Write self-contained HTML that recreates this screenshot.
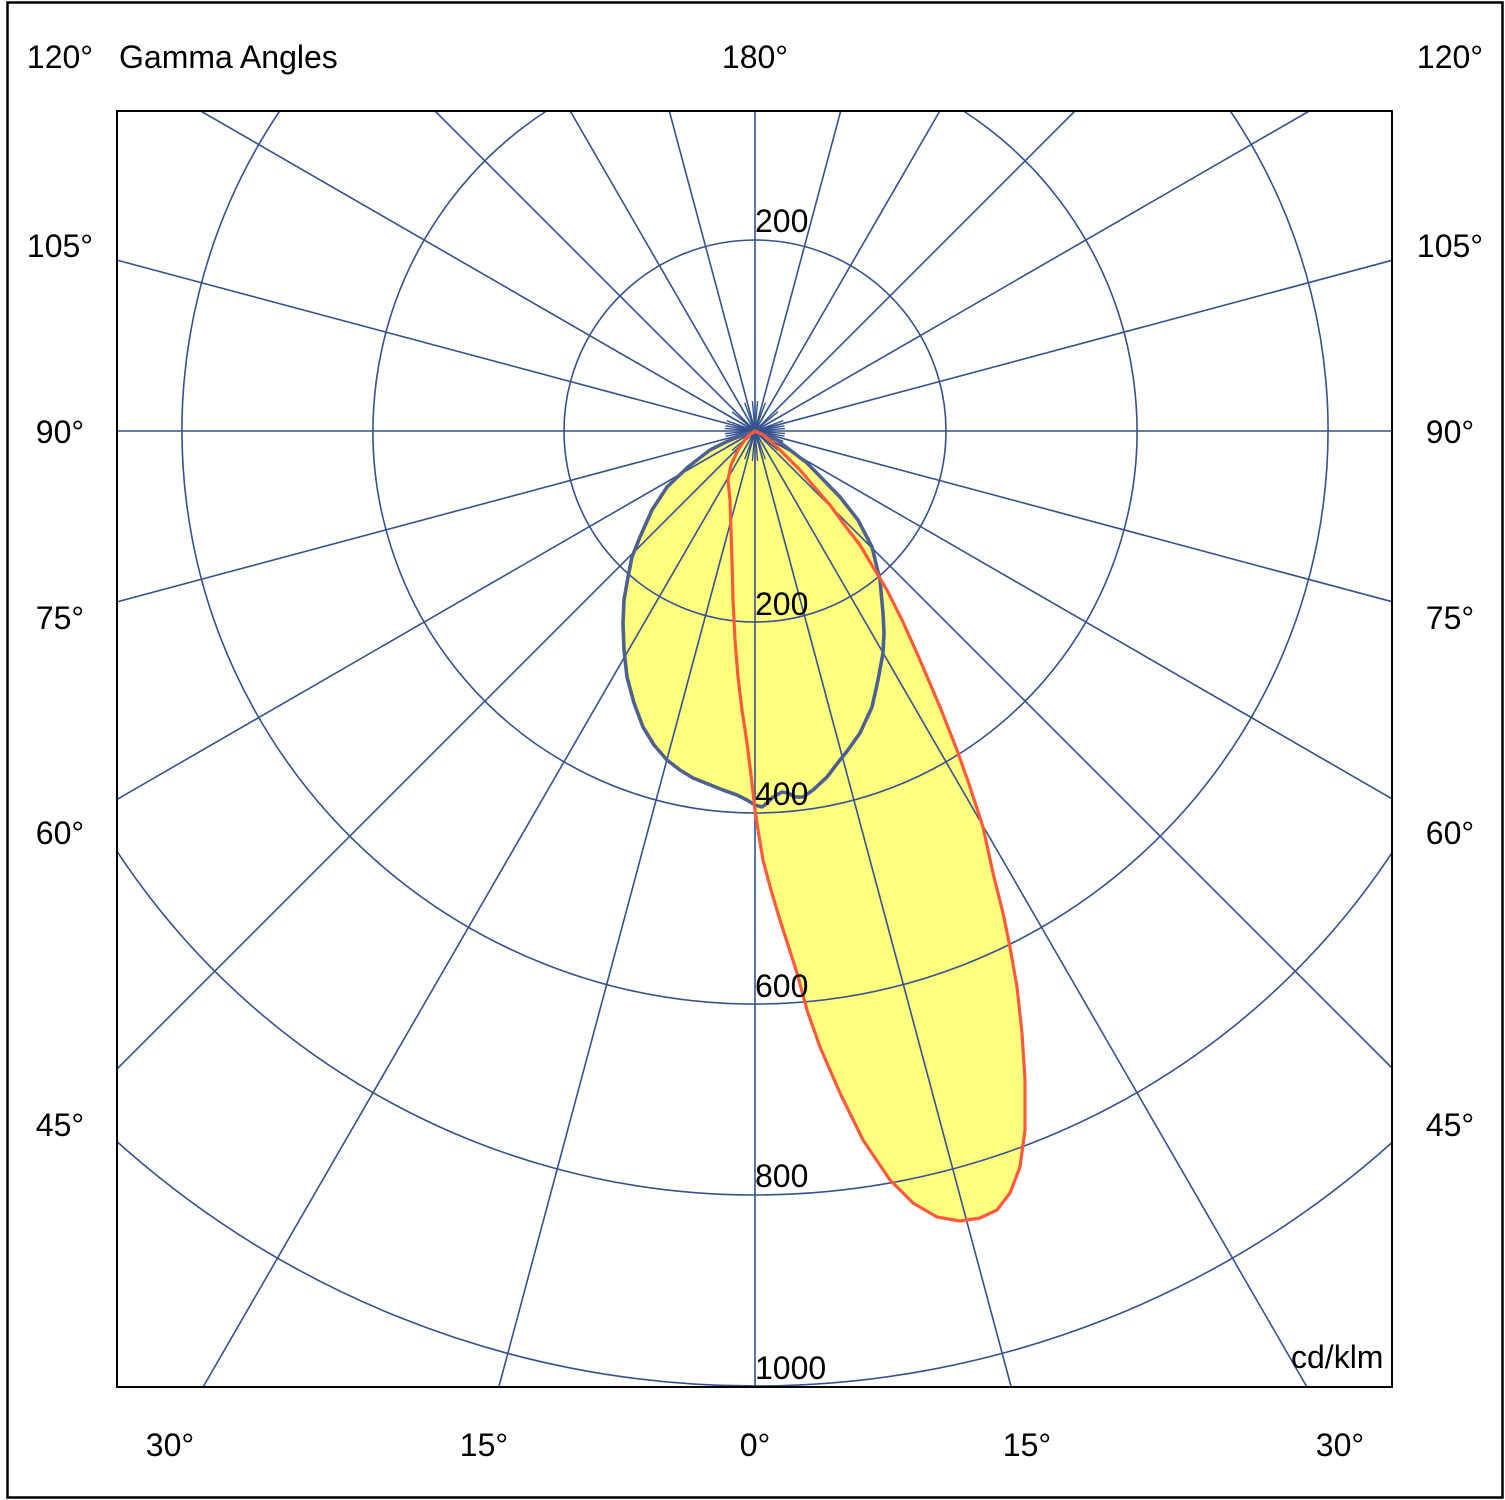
<!DOCTYPE html>
<html>
<head>
<meta charset="utf-8">
<style>
  html, body { margin: 0; padding: 0; background: #ffffff; width: 1505px; height: 1500px; overflow: hidden; }
  svg { display: block; }
  text { font-family: "Liberation Sans", Arial, sans-serif; font-size: 32px; fill: #000; }
</style>
</head>
<body>
<svg width="1505" height="1500" viewBox="0 0 1505 1500" xmlns="http://www.w3.org/2000/svg">
  <rect x="0" y="0" width="1505" height="1500" fill="#ffffff"/>
  <!-- outer frame -->
  <rect x="7.5" y="2.5" width="1495" height="1495" fill="none" stroke="#000" stroke-width="2.5"/>

  <!-- yellow fills -->
  <path fill="#ffff80" stroke="none" d="M755,431 L743,435 L726,442 L710,450 L688,467 L667,487 L652,510 L640,537 L632,557 L628,577 L624,600 L623,623 L624,650 L627,677 L634,703 L643,727 L654,745 L667,760 L680,770 L693,778 L708,784 L723,790 L737,795 L747,800 L755,805 L762,807 L767,803 L773,797 L782,792 L788,793 L795,797 L803,797 L813,790 L827,777 L840,760 L848,750 L860,733 L872,707 L878,680 L883,653 L884,633 L883,613 L880,580 L872,547 L858,520 L840,497 L807,463 L777,440 Z"/>
  <path fill="#ffff80" stroke="none" d="M755,431 L747,437 L738,450 L731,465 L728,480 L730,500 L731,530 L732,560 L733,600 L735,640 L738,677 L742,710 L747,743 L751,775 L755,810 L758,830 L763,860 L771,890 L780,920 L797,973 L807,1010 L820,1047 L840,1093 L863,1140 L890,1180 L913,1203 L937,1217 L960,1221 L980,1218 L997,1210 L1010,1193 L1020,1167 L1025,1130 L1025,1080 L1022,1033 L1017,987 L1010,947 L1003,913 L993,873 L983,827 L970,787 L957,750 L940,707 L920,660 L903,622 L887,590 L873,567 L860,545 L843,523 L830,505 L817,490 L800,470 L787,457 L772,442 L763,435 Z"/>

  <!-- grid -->
  <g fill="none" stroke="#34528e" stroke-width="1.6">
    <circle cx="755" cy="431" r="191"/>
    <path d="M546.4,111 A382 382 0 1 0 963.6,111"/>
    <path d="M279.7,111 A573 573 0 1 0 1230.3,111"/>
    <path d="M117,851.3 A764 764 0 0 0 1392,852.8"/>
    <path d="M117,1141.6 A955 955 0 0 0 1392,1142.5"/>

    <line x1="755" y1="431" x2="1392" y2="431"/>
    <line x1="755" y1="431" x2="1392" y2="601.7"/>
    <line x1="755" y1="431" x2="1392" y2="798.8"/>
    <line x1="755" y1="431" x2="1392" y2="1068"/>
    <line x1="755" y1="431" x2="1306.9" y2="1387"/>
    <line x1="755" y1="431" x2="1011.2" y2="1387"/>
    <line x1="755" y1="431" x2="755" y2="1387"/>
    <line x1="755" y1="431" x2="498.8" y2="1387"/>
    <line x1="755" y1="431" x2="203.1" y2="1387"/>
    <line x1="755" y1="431" x2="117" y2="1069"/>
    <line x1="755" y1="431" x2="117" y2="799.4"/>
    <line x1="755" y1="431" x2="117" y2="601.9"/>
    <line x1="755" y1="431" x2="117" y2="431"/>
    <line x1="755" y1="431" x2="117" y2="260.1"/>
    <line x1="755" y1="431" x2="200.7" y2="111"/>
    <line x1="755" y1="431" x2="435" y2="111"/>
    <line x1="755" y1="431" x2="570.2" y2="111"/>
    <line x1="755" y1="431" x2="669.3" y2="111"/>
    <line x1="755" y1="431" x2="755" y2="111"/>
    <line x1="755" y1="431" x2="840.7" y2="111"/>
    <line x1="755" y1="431" x2="939.8" y2="111"/>
    <line x1="755" y1="431" x2="1075" y2="111"/>
    <line x1="755" y1="431" x2="1309.3" y2="111"/>
    <line x1="755" y1="431" x2="1392" y2="260.3"/>
  </g>
  <!-- dense fan near center -->
  <g stroke="#34528e" stroke-width="1.4">
    <line x1="755" y1="431" x2="785" y2="433.6"/>
    <line x1="755" y1="431" x2="784.5" y2="436.2"/>
    <line x1="755" y1="431" x2="783.2" y2="441.3"/>
    <line x1="755" y1="431" x2="781" y2="446"/>
    <line x1="755" y1="431" x2="778" y2="450.3"/>
    <line x1="755" y1="431" x2="770" y2="457"/>
    <line x1="755" y1="431" x2="765.3" y2="459.2"/>
    <line x1="755" y1="431" x2="757.6" y2="460.9"/>
    <line x1="755" y1="431" x2="752.4" y2="460.9"/>
    <line x1="755" y1="431" x2="744.7" y2="459.2"/>
    <line x1="755" y1="431" x2="740" y2="457"/>
    <line x1="755" y1="431" x2="732" y2="450.3"/>
    <line x1="755" y1="431" x2="729" y2="446"/>
    <line x1="755" y1="431" x2="726.8" y2="441.3"/>
    <line x1="755" y1="431" x2="725.5" y2="436.2"/>
    <line x1="755" y1="431" x2="725" y2="433.6"/>
    <line x1="755" y1="431" x2="785" y2="428.4"/>
    <line x1="755" y1="431" x2="784.5" y2="425.8"/>
    <line x1="755" y1="431" x2="783.2" y2="420.7"/>
    <line x1="755" y1="431" x2="781" y2="416"/>
    <line x1="755" y1="431" x2="778" y2="411.7"/>
    <line x1="755" y1="431" x2="770" y2="405"/>
    <line x1="755" y1="431" x2="765.3" y2="402.8"/>
    <line x1="755" y1="431" x2="757.6" y2="401.1"/>
    <line x1="755" y1="431" x2="752.4" y2="401.1"/>
    <line x1="755" y1="431" x2="744.7" y2="402.8"/>
    <line x1="755" y1="431" x2="740" y2="405"/>
    <line x1="755" y1="431" x2="732" y2="411.7"/>
    <line x1="755" y1="431" x2="729" y2="416"/>
    <line x1="755" y1="431" x2="726.8" y2="420.7"/>
    <line x1="755" y1="431" x2="725.5" y2="425.8"/>
    <line x1="755" y1="431" x2="725" y2="428.4"/>
  </g>
  <circle cx="755" cy="431" r="5" fill="#34528e"/>

  <!-- curves -->
  <path fill="none" stroke="#4d6190" stroke-width="3.6" stroke-linejoin="round" d="M755,431 L743,435 L726,442 L710,450 L688,467 L667,487 L652,510 L640,537 L632,557 L628,577 L624,600 L623,623 L624,650 L627,677 L634,703 L643,727 L654,745 L667,760 L680,770 L693,778 L708,784 L723,790 L737,795 L747,800 L755,805 L762,807 L767,803 L773,797 L782,792 L788,793 L795,797 L803,797 L813,790 L827,777 L840,760 L848,750 L860,733 L872,707 L878,680 L883,653 L884,633 L883,613 L880,580 L872,547 L858,520 L840,497 L807,463 L777,440 Z"/>
  <path fill="none" stroke="#ff5a3c" stroke-width="3.2" stroke-linejoin="round" d="M755,431 L747,437 L738,450 L731,465 L728,480 L730,500 L731,530 L732,560 L733,600 L735,640 L738,677 L742,710 L747,743 L751,775 L755,810 L758,830 L763,860 L771,890 L780,920 L797,973 L807,1010 L820,1047 L840,1093 L863,1140 L890,1180 L913,1203 L937,1217 L960,1221 L980,1218 L997,1210 L1010,1193 L1020,1167 L1025,1130 L1025,1080 L1022,1033 L1017,987 L1010,947 L1003,913 L993,873 L983,827 L970,787 L957,750 L940,707 L920,660 L903,622 L887,590 L873,567 L860,545 L843,523 L830,505 L817,490 L800,470 L787,457 L772,442 L763,435 Z"/>

  <!-- plot frame -->
  <rect x="117" y="111" width="1275" height="1276" fill="none" stroke="#000" stroke-width="2"/>

  <!-- radial value labels -->
  <text x="755" y="232">200</text>
  <text x="755" y="615">200</text>
  <text x="755" y="805">400</text>
  <text x="755" y="997">600</text>
  <text x="755" y="1187">800</text>
  <text x="755" y="1379">1000</text>
  <text x="1291" y="1368">cd/klm</text>

  <!-- top labels -->
  <text x="119" y="68">Gamma Angles</text>
  <text x="755" y="68" text-anchor="middle">180°</text>

  <!-- side and bottom labels -->
  <g text-anchor="middle">
    <text x="60" y="68">120°</text>
    <text x="60" y="257">105°</text>
    <text x="60" y="443">90°</text>
    <text x="60" y="629">75°</text>
    <text x="60" y="844">60°</text>
    <text x="60" y="1136">45°</text>

    <text x="1450" y="68">120°</text>
    <text x="1450" y="257">105°</text>
    <text x="1450" y="443">90°</text>
    <text x="1450" y="629">75°</text>
    <text x="1450" y="844">60°</text>
    <text x="1450" y="1136">45°</text>

    <text x="170" y="1456">30°</text>
    <text x="484" y="1456">15°</text>
    <text x="755" y="1456">0°</text>
    <text x="1027" y="1456">15°</text>
    <text x="1340" y="1456">30°</text>
  </g>
</svg>
</body>
</html>
